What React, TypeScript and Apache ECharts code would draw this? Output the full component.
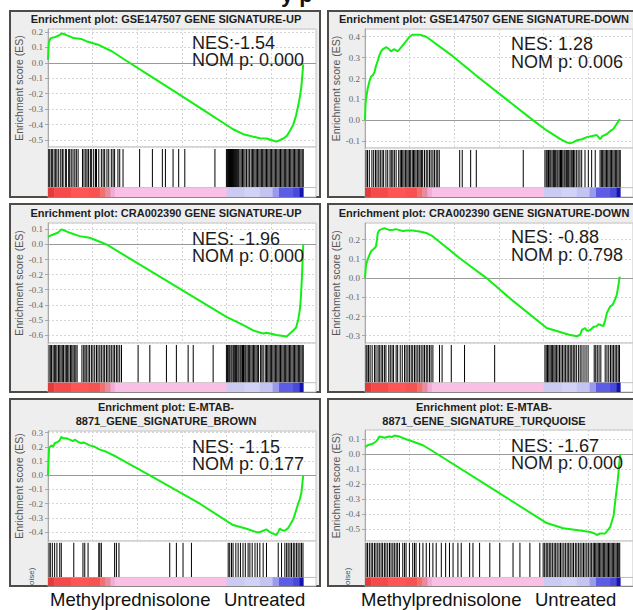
import React, { useEffect, useRef } from 'react';
import * as echarts from 'echarts';

// ---------------- DATA ----------------
const panelTitles = [
  'Enrichment plot: GSE147507 GENE SIGNATURE-UP',
  'Enrichment plot: GSE147507 GENE SIGNATURE-DOWN',
  'Enrichment plot: CRA002390 GENE SIGNATURE-UP',
  'Enrichment plot: CRA002390 GENE SIGNATURE-DOWN',
  'Enrichment plot: E-MTAB-\n8871_GENE_SIGNATURE_BROWN',
  'Enrichment plot: E-MTAB-\n8871_GENE_SIGNATURE_TURQUOISE',
];
const nesLabels = ['NES:-1.54', 'NES: 1.28', 'NES: -1.96', 'NES: -0.88', 'NES: -1.15', 'NES: -1.67'];
const nomPLabels = ['NOM p: 0.000', 'NOM p: 0.006', 'NOM p: 0.000', 'NOM p: 0.798', 'NOM p: 0.177', 'NOM p: 0.000'];
const phenotypeLabels = ['Methylprednisolone', 'Untreated'];
const yAxisTitle = 'Enrichment score (ES)';
const cutTopTitle = 'y p';
const cutRankLabel = 'oise)';

// ES axis extents (value at bottom, value at top)
const esExtents = [
  [-0.545, 0.219],
  [-0.132, 0.437],
  [-0.653, 0.142],
  [-0.338, 0.287],
  [-0.462, 0.311],
  [-0.58, 0.162],
];

// running enrichment score: [rank (0-1000), ES]
const esGse147507Up = [
  [0, 0.02], [3, 0.13], [10, 0.16], [25, 0.165], [40, 0.175], [55, 0.19], [65, 0.185], [75, 0.178],
  [90, 0.168], [100, 0.16], [115, 0.158], [130, 0.155], [150, 0.14], [200, 0.115], [250, 0.075],
  [310, 0.01], [400, -0.085], [529, -0.22], [620, -0.318], [725, -0.43], [765, -0.462], [804, -0.478],
  [830, -0.488], [856, -0.49], [875, -0.5], [895, -0.51], [908, -0.5], [922, -0.49], [935, -0.475],
  [948, -0.44], [961, -0.4], [972, -0.34], [980, -0.28], [987, -0.22], [993, -0.15], [997, -0.07], [1000, -0.01],
];
const esGse147507Down = [
  [0, 0.0], [2, 0.08], [4, 0.1], [10, 0.15], [18, 0.19], [24, 0.21], [30, 0.215], [37, 0.23], [43, 0.26],
  [50, 0.285], [56, 0.31], [63, 0.33], [69, 0.34], [83, 0.35], [95, 0.34], [102, 0.33], [110, 0.338],
  [115, 0.34], [122, 0.335], [128, 0.33], [135, 0.34], [142, 0.35], [155, 0.37], [165, 0.385], [174, 0.4],
  [187, 0.41], [200, 0.41], [214, 0.41], [240, 0.4], [345, 0.306], [450, 0.2], [581, 0.075], [659, 0.0],
  [712, -0.048], [764, -0.088], [790, -0.105], [803, -0.11], [815, -0.105], [830, -0.095], [850, -0.09],
  [869, -0.08], [890, -0.075], [908, -0.07], [915, -0.08], [921, -0.09], [930, -0.075], [948, -0.065],
  [962, -0.05], [974, -0.04], [987, -0.015], [995, 0.0], [1000, 0.005],
];
const esCra002390Up = [
  [0, 0.05], [5, 0.055], [20, 0.066], [39, 0.077], [52, 0.1], [65, 0.092], [85, 0.077], [124, 0.055],
  [163, 0.044], [203, 0.018], [229, 0.0], [464, -0.24], [699, -0.48], [760, -0.53], [804, -0.57],
  [843, -0.59], [856, -0.585], [869, -0.59], [895, -0.6], [915, -0.605], [935, -0.61], [948, -0.59],
  [961, -0.57], [972, -0.55], [980, -0.5], [986, -0.44], [990, -0.37], [994, -0.25], [997, -0.13], [1000, 0.0],
];
const esCra002390Down = [
  [0, 0.0], [2, 0.035], [4, 0.07], [10, 0.095], [17, 0.12], [24, 0.14], [37, 0.155], [43, 0.165], [47, 0.2],
  [50, 0.235], [56, 0.25], [66, 0.255], [76, 0.26], [86, 0.255], [96, 0.25], [110, 0.252], [122, 0.255],
  [135, 0.25], [148, 0.245], [165, 0.248], [187, 0.248], [200, 0.245], [214, 0.243], [240, 0.235],
  [266, 0.217], [370, 0.105], [476, 0.0], [581, -0.12], [712, -0.26], [777, -0.286], [800, -0.295],
  [830, -0.303], [843, -0.295], [850, -0.27], [862, -0.26], [870, -0.275], [882, -0.27], [895, -0.255],
  [908, -0.25], [915, -0.24], [921, -0.243], [934, -0.25], [941, -0.22], [948, -0.18], [961, -0.147],
  [970, -0.14], [980, -0.11], [986, -0.09], [990, -0.06], [995, -0.02], [997, 0.005], [1000, 0.0],
];
const esEmtabBrown = [
  [0, 0.0], [4, 0.19], [8, 0.2], [13, 0.21], [20, 0.2], [26, 0.225], [33, 0.23], [39, 0.235], [46, 0.245],
  [52, 0.27], [59, 0.26], [72, 0.26], [85, 0.25], [92, 0.245], [98, 0.24], [105, 0.25], [118, 0.235],
  [131, 0.225], [137, 0.23], [144, 0.228], [163, 0.21], [183, 0.2], [203, 0.18], [229, 0.165], [268, 0.13],
  [399, 0.0], [595, -0.2], [725, -0.35], [778, -0.376], [817, -0.4], [830, -0.4], [843, -0.39], [856, -0.38],
  [869, -0.4], [882, -0.41], [895, -0.42], [902, -0.4], [908, -0.375], [915, -0.385], [928, -0.39],
  [941, -0.37], [948, -0.35], [961, -0.31], [974, -0.235], [980, -0.2], [987, -0.165], [993, -0.12],
  [997, -0.05], [1000, 0.0],
];
const esEmtabTurquoise = [
  [0, 0.05], [5, 0.052], [10, 0.06], [20, 0.065], [30, 0.07], [43, 0.085], [50, 0.1], [56, 0.118],
  [66, 0.115], [76, 0.11], [86, 0.115], [96, 0.118], [105, 0.115], [115, 0.125], [125, 0.122],
  [135, 0.118], [161, 0.1], [187, 0.085], [227, 0.06], [266, 0.02], [500, -0.232], [712, -0.46],
  [777, -0.495], [843, -0.51], [882, -0.52], [900, -0.53], [908, -0.54], [921, -0.53], [941, -0.53],
  [961, -0.485], [974, -0.41], [980, -0.32], [990, -0.18], [997, -0.05], [1000, 0.0],
];

// gene-set hit positions (rank 0-1000)
const hitsGse147507Up = [
  3, 7, 13, 17, 24, 30, 35, 42, 50, 56, 59, 68, 72, 81, 85, 91, 98, 105, 111, 118, 135, 141, 148, 153, 159,
  166, 171, 179, 186, 190, 199, 209, 216, 222, 231, 238, 248, 255, 261, 274, 281, 294, 359, 409, 448, 460,
  490, 512, 536, 654, 699, 703, 707, 711, 715, 719, 723, 727, 731, 735, 739, 743, 747, 752, 757, 762, 767,
  772, 778, 784, 790, 796, 801, 806, 811, 816, 821, 826, 831, 836, 841, 846, 851, 856, 861, 866, 871, 876,
  881, 886, 891, 896, 901, 906, 911, 916, 921, 926, 931, 936, 941, 946, 951, 956, 961, 966, 971, 976, 981,
  986, 991, 996, 1000,
];
const hitsGse147507Down = [
  4, 10, 17, 27, 34, 41, 47, 54, 60, 67, 73, 82, 89, 98, 103, 109, 115, 122, 132, 138, 143, 148, 153, 159,
  164, 169, 174, 179, 185, 190, 195, 200, 206, 211, 216, 221, 226, 233, 240, 246, 253, 259, 266, 272, 279,
  285, 291, 371, 381, 414, 436, 620, 705, 710, 714, 719, 724, 728, 733, 738, 742, 747, 752, 756, 761, 766,
  770, 775, 780, 784, 789, 794, 798, 803, 808, 812, 817, 822, 828, 835, 842, 849, 862, 875, 888, 902, 921,
  926, 931, 936, 941, 946, 951, 956, 961, 966, 971, 976, 981, 986, 991, 996, 1000,
];
const hitsCra002390Up = [
  4, 9, 14, 20, 25, 30, 35, 41, 46, 51, 56, 61, 67, 72, 77, 82, 88, 93, 98, 103, 109, 114, 133, 140, 145,
  150, 157, 163, 170, 176, 183, 190, 196, 203, 209, 216, 222, 229, 235, 242, 248, 255, 261, 268, 274, 281,
  288, 353, 399, 464, 503, 549, 569, 647, 699, 703, 708, 712, 717, 721, 726, 730, 735, 739, 744, 748, 753,
  757, 762, 766, 771, 775, 780, 785, 790, 795, 800, 805, 810, 815, 820, 825, 833, 838, 843, 851, 856, 861,
  866, 871, 876, 881, 886, 891, 896, 901, 906, 911, 916, 921, 926, 931, 936, 941, 946, 951, 956, 961, 966,
  971, 976, 981, 986, 991, 996, 1000,
];
const hitsCra002390Down = [
  4, 8, 14, 20, 28, 37, 43, 51, 56, 63, 69, 76, 82, 93, 99, 106, 112, 122, 128, 138, 146, 155, 161, 168,
  174, 181, 187, 194, 200, 207, 213, 220, 227, 233, 240, 246, 253, 259, 266, 292, 302, 338, 390, 508, 705,
  710, 715, 720, 725, 730, 735, 740, 745, 750, 756, 762, 768, 774, 780, 786, 792, 798, 804, 810, 816, 822,
  828, 836, 843, 850, 858, 866, 874, 898, 904, 910, 917, 924, 941, 948, 955, 962, 968, 974, 980, 986, 992, 997,
];
const hitsEmtabBrown = [
  4, 9, 17, 26, 35, 46, 52, 101, 137, 144, 157, 199, 203, 209, 261, 268, 278, 477, 503, 529, 562, 706, 712,
  719, 725, 736, 745, 754, 764, 773, 784, 791, 800, 811, 820, 830, 843, 856, 902, 915, 928, 935, 941, 948,
  954, 961, 967, 974, 980, 987, 993, 999,
];
const hitsEmtabTurquoise = [
  4, 10, 17, 24, 30, 37, 43, 50, 56, 63, 69, 76, 82, 89, 96, 102, 109, 115, 122, 128, 135, 148, 155, 161,
  174, 187, 194, 200, 214, 227, 240, 253, 266, 279, 299, 316, 331, 345, 364, 377, 410, 423, 449, 489, 528,
  580, 607, 646, 685, 698, 704, 710, 716, 722, 728, 734, 741, 747, 753, 760, 766, 772, 779, 785, 792, 798,
  804, 811, 817, 824, 830, 837, 843, 850, 856, 862, 869, 875, 882, 888, 894, 899, 904, 909, 914, 919, 924,
  929, 934, 939, 944, 949, 954, 959, 964, 969, 974, 979, 984, 989, 994, 998,
];

// ranked-list metric colour bands: [from rank, to rank]
const bandStarts = [0, 25, 90, 160, 205, 225, 245, 262, 700, 770, 830, 880, 905, 960, 985];
const bandEnds = [25, 90, 160, 205, 225, 245, 262, 700, 770, 830, 880, 905, 960, 985, 1000];
const bandColors = [
  '#e23b3b', '#f64a4a', '#ff5555', '#f65252', '#f0706f', '#e88b9f', '#f2aad6', '#f9bfe5',
  '#cacaf2', '#d2d2f6', '#c4c4f2', '#9a9aec', '#5c5ce6', '#4a4ad8', '#1414b0',
];

const esSeries = [esGse147507Up, esGse147507Down, esCra002390Up, esCra002390Down, esEmtabBrown, esEmtabTurquoise];
const hitSeries = [hitsGse147507Up, hitsGse147507Down, hitsCra002390Up, hitsCra002390Down, hitsEmtabBrown, hitsEmtabTurquoise];

// ---------------- LAYOUT ----------------
const RANK_MAX = 1050;
const RANK_STEP = 175;
const panels = [
  { x: 9, y: 10, w: 312, h: 188, gl: 48, gt: 29, gh: 118, hb: 197, ty: 19, nx: 192, ny: 42.6 },
  { x: 327, y: 10, w: 312, h: 188, gl: 365, gt: 29, gh: 119, hb: 197, ty: 19, nx: 511, ny: 44.4 },
  { x: 9, y: 203, w: 312, h: 190, gl: 48, gt: 223, gh: 120, hb: 392, ty: 213, nx: 192, ny: 239 },
  { x: 327, y: 203, w: 312, h: 190, gl: 365, gt: 223, gh: 120, hb: 392, ty: 213, nx: 511, ny: 237.4 },
  { x: 9, y: 398, w: 312, h: 189, gl: 48, gt: 431, gh: 110, hb: 586, ty: 414, nx: 192, ny: 446.7 },
  { x: 327, y: 398, w: 312, h: 189, gl: 365, gt: 430, gh: 111, hb: 586, ty: 414, nx: 511, ny: 446 },
];
const GRID_W = 268;
const LINE_GAP = 17.3;

function buildOption() {
  const grid: any[] = [];
  const xAxis: any[] = [];
  const yAxis: any[] = [];
  const series: any[] = [];
  const graphic: any[] = [];

  panels.forEach((p, i) => {
    const esIdx = i * 2;
    const hitIdx = i * 2 + 1;
    const hitTop = p.gt + p.gh;
    grid.push({
      left: p.gl, top: p.gt, width: GRID_W, height: p.gh,
      show: true, backgroundColor: '#ffffff', borderColor: '#c4c4c4', borderWidth: 1,
    });
    grid.push({
      left: p.gl, top: hitTop, width: GRID_W, height: p.hb - hitTop,
      show: true, backgroundColor: '#ffffff', borderColor: '#c4c4c4', borderWidth: 1,
    });
    xAxis.push({
      gridIndex: esIdx, type: 'value', min: 0, max: RANK_MAX, interval: RANK_STEP,
      axisLine: { show: false }, axisTick: { show: false }, axisLabel: { show: false },
      splitLine: { show: true, lineStyle: { color: '#d6d6d6', type: [2, 2], width: 1 } },
    });
    xAxis.push({
      gridIndex: hitIdx, type: 'value', min: 0, max: RANK_MAX,
      axisLine: { show: false }, axisTick: { show: false }, axisLabel: { show: false }, splitLine: { show: false },
    });
    yAxis.push({
      gridIndex: esIdx, type: 'value', min: esExtents[i][0], max: esExtents[i][1],
      minInterval: 0.1, maxInterval: 0.1,
      axisLine: { show: true, lineStyle: { color: '#a8a8a8' } },
      axisTick: { show: true, length: 3, lineStyle: { color: '#a8a8a8' } },
      axisLabel: {
        fontSize: 9, color: '#666', fontFamily: 'Liberation Serif', margin: 5,
        showMinLabel: false, showMaxLabel: false,
        formatter: (v: number) => (Math.abs(v) < 1e-9 ? '0.0' : v.toFixed(1)),
      },
      splitLine: { show: true, lineStyle: { color: '#d6d6d6', type: [2, 2], width: 1 } },
      name: yAxisTitle, nameLocation: 'middle', nameGap: 21, nameRotate: 90,
      nameTextStyle: { fontSize: 10.5, color: '#555', fontFamily: 'Liberation Sans' },
    });
    yAxis.push({
      gridIndex: hitIdx, type: 'value', min: 0, max: 1,
      axisLine: { show: false }, axisTick: { show: false }, axisLabel: { show: false }, splitLine: { show: false },
    });

    series.push({
      type: 'line', xAxisIndex: esIdx, yAxisIndex: esIdx, data: esSeries[i],
      showSymbol: false, symbol: 'none', lineStyle: { color: '#14ee14', width: 2 }, z: 5,
      markLine: {
        silent: true, symbol: ['none', 'none'], label: { show: false },
        lineStyle: { color: '#9a9a9a', type: 'solid', width: 1 },
        data: [{ yAxis: 0 }], z: 3,
      },
    });
    series.push({
      type: 'line', xAxisIndex: hitIdx, yAxisIndex: hitIdx,
      data: [[0, 0.19], [RANK_MAX, 0.19]], showSymbol: false, symbol: 'none',
      lineStyle: { color: '#bdbdbd', width: 1 }, z: 2, silent: true,
    });
    series.push({
      type: 'custom', xAxisIndex: hitIdx, yAxisIndex: hitIdx,
      data: hitSeries[i].map((r) => [r, 0.5]),
      encode: { x: 0, y: 1 },
      renderItem: (_params: any, api: any) => {
        const r = api.value(0);
        const a = api.coord([r, 0.96]);
        const b = api.coord([r, 0.2]);
        return { type: 'line', shape: { x1: a[0], y1: a[1], x2: b[0], y2: b[1] }, style: { stroke: '#000', lineWidth: 1 } };
      },
      z: 4, silent: true,
    });
    series.push({
      type: 'custom', xAxisIndex: hitIdx, yAxisIndex: hitIdx,
      data: bandStarts.map((s, k) => [s, bandEnds[k], 0.1, k]),
      encode: { x: [0, 1], y: 2 },
      renderItem: (_params: any, api: any) => {
        const a = api.coord([api.value(0), 0.19]);
        const b = api.coord([api.value(1), 0]);
        const k = api.value(3);
        return {
          type: 'rect',
          shape: { x: a[0], y: a[1], width: b[0] - a[0] + 0.4, height: b[1] - a[1] },
          style: { fill: bandColors[k] },
        };
      },
      z: 3, silent: true,
    });

    graphic.push({
      type: 'rect', z: -10, silent: true,
      shape: { x: p.x + 1, y: p.y + 1, width: p.w - 2, height: p.h - 2 },
      style: { fill: '#eeeeee', stroke: '#4f4b48', lineWidth: 2 },
    });
    graphic.push({
      type: 'text', z: 50, silent: true, x: p.x + p.w / 2 + 1, y: p.ty,
      style: {
        text: panelTitles[i], font: 'bold 11px "Liberation Sans"', fill: '#1e1e1e',
        align: 'center', verticalAlign: 'middle', lineHeight: 13.4,
      },
    });
    graphic.push({
      type: 'text', z: 50, silent: true, x: p.nx, y: p.ny + LINE_GAP / 2,
      style: {
        text: nesLabels[i] + '\n' + nomPLabels[i], font: '18px "Liberation Sans"', fill: '#1c1c1c',
        align: 'left', verticalAlign: 'middle', lineHeight: LINE_GAP,
      },
    });
  });

  // phenotype labels under the bottom row
  [50, 361].forEach((x0) => {
    graphic.push({
      type: 'text', z: 50, silent: true, x: x0, y: 599,
      style: { text: phenotypeLabels[0], font: '18.5px "Liberation Sans"', fill: '#111', align: 'left', verticalAlign: 'middle' },
    });
    graphic.push({
      type: 'text', z: 50, silent: true, x: x0 + 174, y: 599,
      style: { text: phenotypeLabels[1], font: '18.5px "Liberation Sans"', fill: '#111', align: 'left', verticalAlign: 'middle' },
    });
  });
  // clipped rank-list axis label in the bottom row
  [31.5, 347].forEach((x0) => {
    graphic.push({
      type: 'text', z: 50, silent: true, x: x0, y: 585, rotation: Math.PI / 2,
      style: { text: cutRankLabel, font: '8px "Liberation Sans"', fill: '#555', align: 'left', verticalAlign: 'middle' },
    });
  });
  // clipped page title at the very top
  graphic.push({
    type: 'text', z: 50, silent: true, x: 281, y: 5,
    style: { text: cutTopTitle, font: 'bold 22px "Liberation Sans"', fill: '#111', align: 'left', verticalAlign: 'bottom' },
  });

  return { animation: false, backgroundColor: '#ffffff', grid, xAxis, yAxis, series, graphic };
}

export default function App() {
  const ref = useRef<HTMLDivElement>(null);
  useEffect(() => {
    document.body.style.margin = '0';
    const chart = echarts.init(ref.current as HTMLDivElement, null, { renderer: 'svg' });
    chart.setOption(buildOption() as any);
    return () => chart.dispose();
  }, []);
  return <div ref={ref} style={{ width: 633, height: 610, background: '#fff' }} />;
}
